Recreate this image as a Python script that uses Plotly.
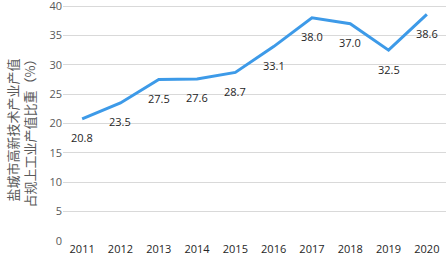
import plotly.graph_objects as go

years = ["2011", "2012", "2013", "2014", "2015", "2016", "2017", "2018", "2019", "2020"]
share = [20.8, 23.5, 27.5, 27.6, 28.7, 33.1, 38.0, 37.0, 32.5, 38.6]
labels = ["20.8", "23.5", "27.5", "27.6", "28.7", "33.1", "38.0", "37.0", "32.5", "38.6"]
y_ticks = [0, 5, 10, 15, 20, 25, 30, 35, 40]
y_title = "盐城市高新技术产业产值<br>占规上工业产值比重（%）"

fig = go.Figure()
fig.add_trace(go.Scatter(
    x=years, y=share, mode="lines",
    line=dict(color="#3D9AE8", width=3),
    hoverinfo="skip", showlegend=False,
))
for i, (y, t) in enumerate(zip(share, labels)):
    fig.add_annotation(x=i, y=y, text=t, showarrow=False, yshift=-19,
                       font=dict(family="Open Sans, Liberation Sans", size=11, color="#262626"))

fig.add_annotation(xref="paper", yref="paper", x=-0.11, y=0.47, text=y_title,
                   textangle=-90, showarrow=False, xanchor="center", yanchor="middle",
                   font=dict(family="Noto Sans CJK SC", size=13, color="#595959"))

fig.update_layout(
    width=448, height=264,
    margin=dict(l=63, r=2, t=4, b=23),
    paper_bgcolor="white", plot_bgcolor="white",
    font=dict(family="Open Sans, Liberation Sans", size=11, color="#404040"),
    xaxis=dict(type="category", range=[-0.5, 9.5], showgrid=False, showline=False, ticks="",
               automargin=False, tickfont=dict(size=11, color="#262626")),
    yaxis=dict(range=[0, 40.35], tickvals=y_ticks, showgrid=True, gridcolor="#D9D9D9",
               gridwidth=1, zeroline=False, showline=False, ticks="", automargin=False,
               ticklabeloverflow="allow",
               tickfont=dict(size=11, color="#595959")),
)
fig.write_html("out.html", config={"displayModeBar": False},
               post_script="document.body.style.margin='0';document.body.style.padding='0';")
